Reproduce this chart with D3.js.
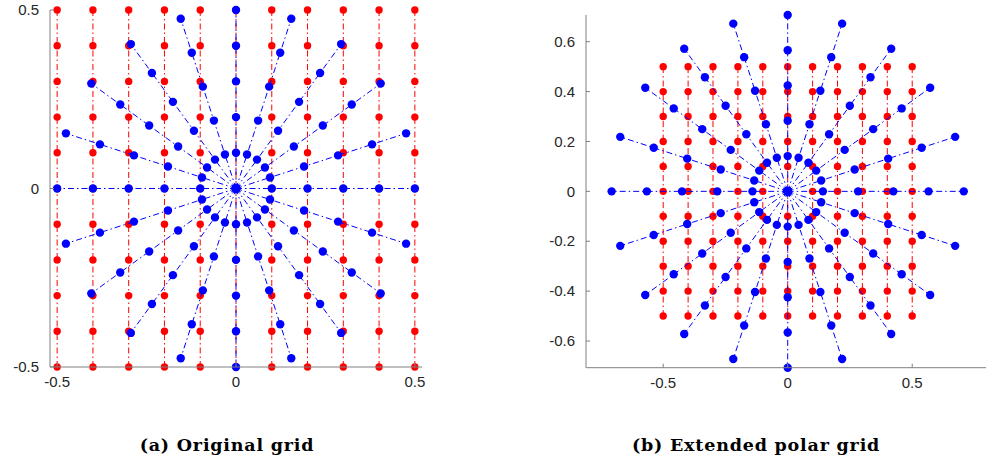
<!DOCTYPE html>
<meta charset="utf-8">
<script src="https://d3js.org/d3.v7.min.js"></script>
<style>
    body { margin: 0; background: #fff; }
    .tick-label { font-family: 'Liberation Sans', Arial, sans-serif; font-size: 15px; fill: #262626; }
    .caption { font-family: 'DejaVu Serif', serif; font-weight: bold; font-size: 17.5px; letter-spacing: 0.8px; fill: #000; }
</style>
<div id="chart"></div>
<script>
    // cartesian grid (red)
    let gridX = [-0.5, -0.4, -0.3, -0.2, -0.1, 0, 0.1, 0.2, 0.3, 0.4, 0.5];
    let gridY = [-0.5, -0.4, -0.3, -0.2, -0.1, 0, 0.1, 0.2, 0.3, 0.4, 0.5];

    // polar grid (blue): ray angles in degrees and radii per panel
    let angles = [0, 18, 36, 54, 72, 90, 108, 126, 144, 162, 180, 198, 216, 234, 252, 270, 288, 306, 324, 342];
    let radiiOriginal = [0, 0.1, 0.2, 0.3, 0.4, 0.5];
    let radiiExtended = [0, 0.1414, 0.2828, 0.4243, 0.5657, 0.7071];

    // tick labels
    let ticksA = {x: [-0.5, 0, 0.5], y: [-0.5, 0, 0.5]};
    let ticksB = {x: [-0.5, 0, 0.5], y: [-0.6, -0.4, -0.2, 0, 0.2, 0.4, 0.6]};

    let captions = ["(a) Original grid", "(b) Extended polar grid"];

    let svg = d3.select("#chart")
        .append("svg")
        .attr("width", 986)
        .attr("height", 461);

    let dashDot = "6,3,1.5,3";

    function drawPanel(opts) {
        let x = d3.scaleLinear().domain(opts.xDomain).range(opts.xRange);
        let y = d3.scaleLinear().domain(opts.yDomain).range(opts.yRange);
        let g = svg.append("g");

        // red vertical lines
        g.selectAll(".redline")
            .data(gridX)
            .enter().append("line")
            .attr("x1", d => x(d)).attr("x2", d => x(d))
            .attr("y1", y(gridY[0])).attr("y2", y(gridY[gridY.length - 1]))
            .attr("stroke", "#ff0000")
            .attr("stroke-width", 1)
            .attr("stroke-dasharray", dashDot);

        // red points
        let redPts = [];
        gridX.forEach(px => gridY.forEach(py => redPts.push([px, py])));
        g.selectAll(".reddot")
            .data(redPts)
            .enter().append("circle")
            .attr("cx", d => x(d[0]))
            .attr("cy", d => y(d[1]))
            .attr("r", 3.7)
            .attr("fill", "#ff0000");

        // blue rays
        let rMax = opts.radii[opts.radii.length - 1];
        g.selectAll(".ray")
            .data(angles)
            .enter().append("line")
            .attr("x1", x(0)).attr("y1", y(0))
            .attr("x2", a => x(rMax * Math.cos(a * Math.PI / 180)))
            .attr("y2", a => y(rMax * Math.sin(a * Math.PI / 180)))
            .attr("stroke", "#0000ff")
            .attr("stroke-width", 1)
            .attr("stroke-dasharray", dashDot);

        // blue points
        let bluePts = [];
        angles.forEach(a => opts.radii.forEach(r => {
            bluePts.push([r * Math.cos(a * Math.PI / 180), r * Math.sin(a * Math.PI / 180)]);
        }));
        g.selectAll(".bluedot")
            .data(bluePts)
            .enter().append("circle")
            .attr("cx", d => x(d[0]))
            .attr("cy", d => y(d[1]))
            .attr("r", 4.2)
            .attr("fill", "#0000ff");

        // axes (left and bottom only, ticks inside)
        let axisColor = "#808080";
        let x0 = opts.xRange[0], x1 = opts.xRange[1];
        let y0 = opts.yRange[0], y1 = opts.yRange[1];
        g.append("line")
            .attr("x1", x0).attr("x2", x0).attr("y1", y0).attr("y2", y1)
            .attr("stroke", axisColor).attr("stroke-width", 1);
        g.append("line")
            .attr("x1", x0).attr("x2", x1).attr("y1", y0).attr("y2", y0)
            .attr("stroke", axisColor).attr("stroke-width", 1);

        g.selectAll(".ytick")
            .data(opts.ticks.y)
            .enter().append("line")
            .attr("x1", x0).attr("x2", x0 + 4)
            .attr("y1", d => y(d)).attr("y2", d => y(d))
            .attr("stroke", axisColor);
        g.selectAll(".xtick")
            .data(opts.ticks.x)
            .enter().append("line")
            .attr("x1", d => x(d)).attr("x2", d => x(d))
            .attr("y1", y0).attr("y2", y0 - 4)
            .attr("stroke", axisColor);

        let fmt = d => d === 0 ? "0" : String(d);
        g.selectAll(".ylab")
            .data(opts.ticks.y)
            .enter().append("text")
            .attr("class", "tick-label")
            .attr("x", x0 - 11)
            .attr("y", d => y(d))
            .attr("dy", "0.35em")
            .attr("text-anchor", "end")
            .text(fmt);
        g.selectAll(".xlab")
            .data(opts.ticks.x)
            .enter().append("text")
            .attr("class", "tick-label")
            .attr("x", d => x(d))
            .attr("y", y0 + 20)
            .attr("text-anchor", "middle")
            .text(fmt);

        g.append("text")
            .attr("class", "caption")
            .attr("x", opts.captionX)
            .attr("y", 451)
            .attr("text-anchor", "middle")
            .text(opts.caption);
    }

    drawPanel({
        xDomain: [-0.52, 0.52], xRange: [50, 422],
        yDomain: [-0.5, 0.5], yRange: [367, 10],
        radii: radiiOriginal, ticks: ticksA,
        caption: captions[0], captionX: 227
    });

    drawPanel({
        xDomain: [-0.81, 0.81], xRange: [586, 989.4],
        yDomain: [-0.7071, 0.7071], yRange: [367.7, 15],
        radii: radiiExtended, ticks: ticksB,
        caption: captions[1], captionX: 756
    });
</script>
